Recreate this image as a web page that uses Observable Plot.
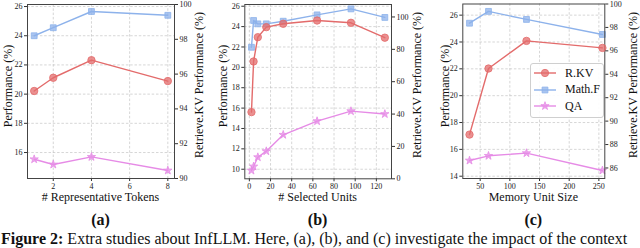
<!DOCTYPE html>
<html>
<head>
<meta charset="utf-8">
<script src="https://cdn.jsdelivr.net/npm/d3@7"></script>
<script src="https://cdn.jsdelivr.net/npm/@observablehq/plot@0.6"></script>
<style>
  html, body { margin: 0; padding: 0; background: #fff; }
  #root { position: relative; width: 640px; height: 248px; overflow: hidden; background: #fff; font-family: "Liberation Serif", serif; color: #111; }
  .lab { position: absolute; white-space: nowrap; font-size: 12px; line-height: 12px; transform: translate(-50%, -50%); }
  .rot { transform: translate(-50%, -50%) rotate(-90deg); }
  .sub { position: absolute; font-size: 16px; line-height: 16px; font-weight: bold; transform: translate(-50%, -50%); }
  .legend { position: absolute; border: 1px solid #cfcfcf; border-radius: 3px; background: rgba(255,255,255,0.9); font-size: 12px; }
  .legend .row { display: flex; align-items: center; height: 16.5px; }
</style>
</head>
<body>
<div id="root"></div>
<script>
// ---------- data ----------
const seriesNames = ["R.KV", "Math.F", "QA"];

// (a) # Representative Tokens
const aX = [1, 2, 4, 8];
const aRKV = [95.03, 95.79, 96.8, 95.6];
const aMath = [24.0, 24.55, 25.66, 25.4];
const aQA = [15.54, 15.18, 15.7, 14.77];
const aXTicks = [2, 4, 6, 8];
const aLeftTicks = [16, 18, 20, 22, 24, 26];
const aRightTicks = [90, 92, 94, 96, 98, 100];

// (b) # Selected Units
const bX = [2, 4, 8, 16, 32, 64, 96, 128];
const bRKV = [41.2, 72.5, 87.5, 93.7, 95.8, 97.8, 96.4, 87.2];
const bMath = [21.97, 24.6, 24.27, 24.27, 24.53, 25.15, 25.74, 24.9];
const bQA = [9.87, 10.27, 11.18, 11.77, 13.38, 14.72, 15.7, 15.42];
const bXTicks = [0, 20, 40, 60, 80, 100, 120];
const bLeftTicks = [10, 12, 14, 16, 18, 20, 22, 24, 26];
const bRightTicks = [0, 20, 40, 60, 80, 100];

// (c) Memory Unit Size
const cX = [32, 64, 128, 256];
const cRKV = [88.85, 94.49, 96.85, 96.25];
const cMath = [25.4, 26.28, 25.68, 24.56];
const cQA = [15.17, 15.52, 15.72, 14.43];
const cXTicks = [50, 100, 150, 200, 250];
const cLeftTicks = [14, 16, 18, 20, 22, 24, 26];
const cRightTicks = [86, 88, 90, 92, 94, 96, 98, 100];

const xLabels = ["# Representative Tokens", "# Selected Units", "Memory Unit Size"];
const subLabels = ["(a)", "(b)", "(c)"];
const leftLabel = "Performance (%)";
const rightLabel = "Retrieve.KV Performance (%)";

// ---------- styling ----------
const RED = "#e36b6b", BLUE = "#8db2eb", PINK = "#e68be6";
const W = 640, H = 200;
const root = document.getElementById("root");

const baseStyle = {
  position: "absolute", left: "0px", top: "0px", background: "transparent",
  fontFamily: "'Liberation Serif', serif", fontSize: "8px", color: "#222", overflow: "visible"
};

function rows(xs, ys) { return xs.map((x, i) => ({x, y: ys[i]})); }
function seriesMarks(data, color, symbol, r) {
  return [
    Plot.line(data, {x: "x", y: "y", stroke: color, strokeWidth: 1.4}),
    Plot.dot(data, {x: "x", y: "y", symbol, r, fill: color, fillOpacity: 0.75, stroke: color, strokeWidth: 0.8})
  ];
}
const gridOpts = {stroke: "#b5b5b5", strokeOpacity: 0.8, strokeWidth: 0.7, strokeDasharray: "2.5,1.8"};

const panels = [
  {fl: 27, fr: 174, ft: 4, fb: 178, xd: [0.65, 8.35], yl: [14.22, 26.14], yr: [90, 100],
   x: aX, rkv: aRKV, math: aMath, qa: aQA, xt: aXTicks, ylt: aLeftTicks, yrt: aRightTicks,
   ll: 8, rl: 199},
  {fl: 244.3, fr: 391, ft: 4, fb: 178.3, xd: [-4.3, 134.3], yl: [9.06, 26.17], yr: [0, 107.7],
   x: bX, rkv: bRKV, math: bMath, qa: bQA, xt: bXTicks, ylt: bLeftTicks, yrt: bRightTicks,
   ll: 223, rl: 417},
  {fl: 462.3, fr: 604.3, ft: 3.5, fb: 178, xd: [20.7, 260], yl: [13.83, 26.83], yr: [85.1, 100],
   x: cX, rkv: cRKV, math: cMath, qa: cQA, xt: cXTicks, ylt: cLeftTicks, yrt: cRightTicks,
   ll: 445, rl: 633}
];

panels.forEach((p, i) => {
  const margins = {marginLeft: p.fl, marginRight: W - p.fr, marginTop: p.ft, marginBottom: H - p.fb};
  const left = Plot.plot({
    width: W, height: H, ...margins,
    x: {domain: p.xd}, y: {domain: p.yl},
    style: baseStyle,
    marks: [
      Plot.gridX(p.xt, gridOpts),
      Plot.gridY(p.ylt, gridOpts),
      ...seriesMarks(rows(p.x, p.math), BLUE, "square", 3.3),
      ...seriesMarks(rows(p.x, p.qa), PINK, "star", 2.6),
      Plot.axisX(p.xt, {tickSize: 3, tickPadding: 2, label: null, stroke: "#333"}),
      Plot.axisY(p.ylt, {tickSize: 3, tickPadding: 2, label: null, stroke: "#333"}),
      Plot.frame({stroke: "#444", strokeWidth: 1})
    ]
  });
  const right = Plot.plot({
    width: W, height: H, ...margins,
    x: {domain: p.xd, axis: null}, y: {domain: p.yr},
    style: baseStyle,
    marks: [
      ...seriesMarks(rows(p.x, p.rkv), RED, "circle", 3.7),
      Plot.axisY(p.yrt, {anchor: "right", tickSize: 3, tickPadding: 2, label: null, stroke: "#333"})
    ]
  });
  root.appendChild(left);
  root.appendChild(right);

  const cx = (p.fl + p.fr) / 2;
  const add = (cls, text, x, y) => {
    const d = document.createElement("div");
    d.className = cls; d.textContent = text;
    d.style.left = x + "px"; d.style.top = y + "px";
    root.appendChild(d);
  };
  add("lab", xLabels[i], cx, 197);
  add("lab rot", leftLabel, p.ll, 86);
  add("lab rot", rightLabel, p.rl, 85);
  add("sub", subLabels[i], cx, 220);
});

// legend (panel c)
const legend = document.createElement("div");
legend.className = "legend";
legend.style.left = "530px"; legend.style.top = "63px";
legend.style.width = "72px"; legend.style.height = "52px";
legend.style.paddingTop = "1px";
const legendItems = [
  {name: seriesNames[0], color: RED, sym: d3.symbolCircle, size: 42},
  {name: seriesNames[1], color: BLUE, sym: d3.symbolSquare, size: 34},
  {name: seriesNames[2], color: PINK, sym: d3.symbolStar, size: 21}
];
legendItems.forEach(it => {
  const row = document.createElement("div");
  row.className = "row";
  const ns = "http://www.w3.org/2000/svg";
  const svg = document.createElementNS(ns, "svg");
  svg.setAttribute("width", "34"); svg.setAttribute("height", "12");
  const ln = document.createElementNS(ns, "line");
  ln.setAttribute("x1", 3); ln.setAttribute("x2", 25); ln.setAttribute("y1", 6); ln.setAttribute("y2", 6);
  ln.setAttribute("stroke", it.color); ln.setAttribute("stroke-width", 1.4);
  const pt = document.createElementNS(ns, "path");
  pt.setAttribute("d", d3.symbol(it.sym, it.size)());
  pt.setAttribute("transform", "translate(14,6)");
  pt.setAttribute("fill", it.color); pt.setAttribute("fill-opacity", 0.75);
  pt.setAttribute("stroke", it.color); pt.setAttribute("stroke-width", 0.8);
  svg.appendChild(ln); svg.appendChild(pt);
  const t = document.createElement("span");
  t.textContent = it.name;
  row.appendChild(svg); row.appendChild(t);
  legend.appendChild(row);
});
root.appendChild(legend);

// caption
const cap = document.createElement("div");
cap.style.cssText = "position:absolute;left:1px;top:231px;font-size:16px;line-height:16px;white-space:nowrap;";
cap.innerHTML = "<b>Figure 2:</b> Extra studies about InfLLM. Here, (a), (b), and (c) investigate the impact of the context";
root.appendChild(cap);
</script>
</body>
</html>
